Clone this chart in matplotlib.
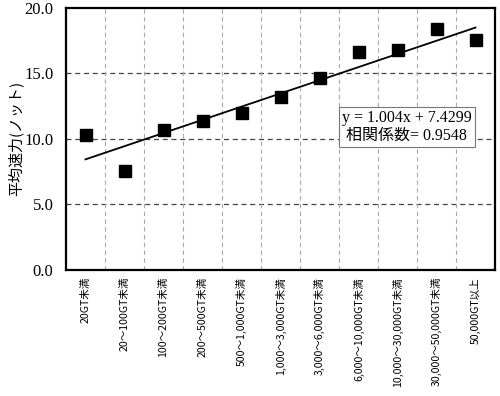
import numpy as np
import matplotlib
matplotlib.use("Agg")
import matplotlib.pyplot as plt

# categories (gross tonnage classes) and average speed in knots
categories = [
    "20GT未満", "20～100GT未満", "100～200GT未満", "200～500GT未満",
    "500～1,000GT未満", "1,000～3,000GT未満", "3,000～6,000GT未満",
    "6,000～10,000GT未満", "10,000～30,000GT未満", "30,000～50,000GT未満",
    "50,000GT以上",
]
speeds = [10.3, 7.56, 10.69, 11.37, 11.98, 13.2, 14.66, 16.64, 16.8, 18.4, 17.55]

# regression shown on the chart
slope = 1.004
intercept = 7.4299
corr = 0.9548

yticks = [0.0, 5.0, 10.0, 15.0, 20.0]

cjk = ["Noto Sans CJK JP", "DejaVu Sans"]
serif_cjk = ["Liberation Serif", "Noto Sans CJK JP"]

fig = plt.figure(figsize=(5.0, 3.96), dpi=100)
ax = fig.add_axes([0.132, 0.318, 0.858, 0.663])

x = np.arange(1, len(categories) + 1)
ax.plot(x, speeds, linestyle="none", marker="s", markersize=8.5, color="black", zorder=3)

xl = np.array([x[0], x[-1]])
ax.plot(xl, slope * xl + intercept, color="black", linewidth=1.3, zorder=2)

ax.set_xlim(0.5, len(categories) + 0.5)
ax.set_ylim(0, 20)

# horizontal dashed grid
for yv in yticks[1:-1]:
    ax.axhline(yv, color="#444444", linestyle=(0, (4, 3)), linewidth=0.9, zorder=1)
# vertical dashed grid between categories
for xv in np.arange(1.5, len(categories), 1.0):
    ax.axvline(xv, color="#aaaaaa", linestyle=(0, (4, 3)), linewidth=0.8, zorder=1)

ax.set_yticks(yticks)
ax.set_yticklabels([f"{v:.1f}" for v in yticks], family="Liberation Serif", fontsize=12)
ax.set_xticks(x)
ax.set_xticklabels(categories, rotation=90, family=cjk, fontsize=7.6, va="top")
ax.tick_params(axis="y", length=0, pad=9)
ax.tick_params(axis="x", length=0, pad=5)

for s in ax.spines.values():
    s.set_linewidth(1.6)
    s.set_color("black")

ax.set_ylabel("平均速力(ノット)", family=cjk, fontsize=10.8)
ax.yaxis.set_label_coords(-0.1, 0.5)

ax.text(9.24, 10.9, f"y = {slope:.3f}x + {intercept:.4f}\n相関係数= {corr:.4f}",
        ha="center", va="center", family=serif_cjk, fontsize=11.5, linespacing=1.15,
        bbox=dict(boxstyle="square,pad=0.2", facecolor="white", edgecolor="#777777",
                  linewidth=0.8), zorder=4)

fig.savefig("out.png", dpi=100)
